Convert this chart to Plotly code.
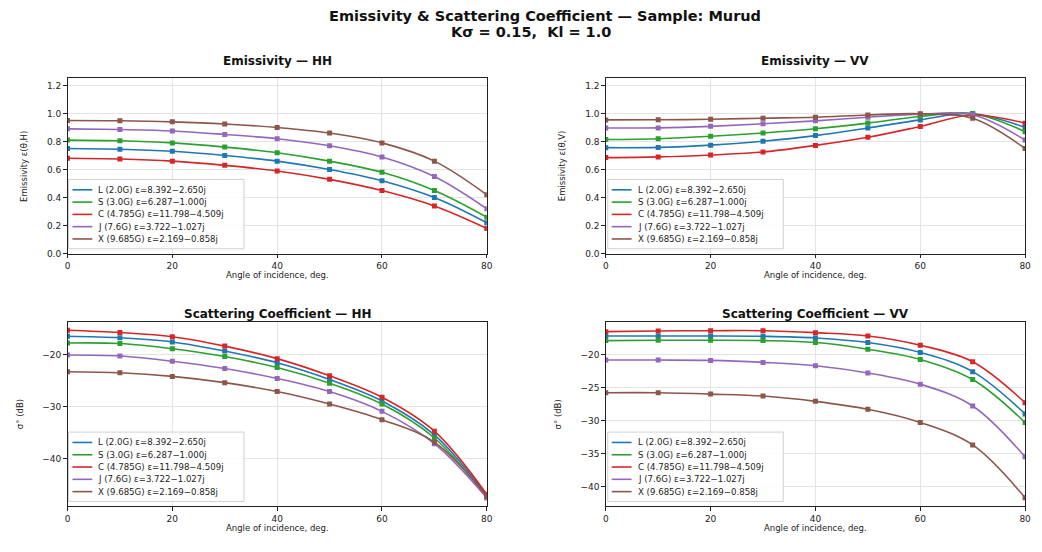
import plotly.graph_objects as go

# ---------------- data ----------------
angles = [0, 10, 20, 30, 40, 50, 60, 70, 80]

band_labels = [
    "L (2.0G) ε=8.392−2.650j",
    "S (3.0G) ε=6.287−1.000j",
    "C (4.785G) ε=11.798−4.509j",
    "J (7.6G) ε=3.722−1.027j",
    "X (9.685G) ε=2.169−0.858j",
]
band_colors = ["#1f77b4", "#2ca02c", "#d62728", "#9467bd", "#8c564b"]

# Emissivity HH
emis_hh_L = [0.75, 0.745, 0.73, 0.70, 0.66, 0.60, 0.52, 0.40, 0.22]
emis_hh_S = [0.81, 0.805, 0.79, 0.76, 0.72, 0.66, 0.58, 0.45, 0.26]
emis_hh_C = [0.68, 0.675, 0.66, 0.63, 0.59, 0.53, 0.45, 0.34, 0.18]
emis_hh_J = [0.89, 0.885, 0.875, 0.85, 0.82, 0.77, 0.69, 0.55, 0.32]
emis_hh_X = [0.95, 0.948, 0.94, 0.925, 0.90, 0.86, 0.79, 0.66, 0.42]

# Emissivity VV
emis_vv_L = [0.756, 0.758, 0.774, 0.802, 0.842, 0.896, 0.954, 0.998, 0.90]
emis_vv_S = [0.814, 0.82, 0.837, 0.861, 0.891, 0.931, 0.978, 1.000, 0.87]
emis_vv_C = [0.685, 0.69, 0.704, 0.725, 0.772, 0.83, 0.907, 0.989, 0.93]
emis_vv_J = [0.896, 0.897, 0.908, 0.926, 0.947, 0.973, 0.995, 0.99, 0.81]
emis_vv_X = [0.954, 0.955, 0.958, 0.966, 0.973, 0.989, 0.998, 0.965, 0.75]

# Scattering coefficient HH (dB)
sig_hh_L = [-16.5, -16.8, -17.6, -19.35, -21.6, -24.8, -28.9, -35.4, -47.0]
sig_hh_S = [-17.8, -17.9, -18.9, -20.4, -22.5, -25.5, -29.5, -36.0, -47.3]
sig_hh_C = [-15.35, -15.8, -16.6, -18.4, -20.8, -24.1, -28.2, -34.7, -46.8]
sig_hh_J = [-20.1, -20.3, -21.3, -22.7, -24.6, -27.1, -30.9, -37.1, -47.5]
sig_hh_X = [-23.3, -23.5, -24.2, -25.4, -27.1, -29.5, -32.5, -36.8, -47.2]

# Scattering coefficient VV (dB)
sig_vv_L = [-17.2, -17.2, -17.2, -17.25, -17.5, -18.2, -19.7, -22.6, -29.0]
sig_vv_S = [-17.9, -17.85, -17.85, -17.9, -18.2, -19.2, -20.75, -23.8, -30.3]
sig_vv_C = [-16.55, -16.45, -16.4, -16.4, -16.7, -17.2, -18.6, -21.1, -27.3]
sig_vv_J = [-20.85, -20.85, -20.9, -21.2, -21.7, -22.8, -24.5, -27.8, -35.5]
sig_vv_X = [-25.8, -25.8, -26.0, -26.3, -27.1, -28.3, -30.3, -33.7, -41.7]

panels = [
    ([emis_hh_L, emis_hh_S, emis_hh_C, emis_hh_J, emis_hh_X], "x", "y"),
    ([emis_vv_L, emis_vv_S, emis_vv_C, emis_vv_J, emis_vv_X], "x2", "y2"),
    ([sig_hh_L, sig_hh_S, sig_hh_C, sig_hh_J, sig_hh_X], "x3", "y3"),
    ([sig_vv_L, sig_vv_S, sig_vv_C, sig_vv_J, sig_vv_X], "x4", "y4"),
]

# page body has an 8px margin; size the figure so it fits the window
OFF = 8
W, H = 1034, 544
FONT = "DejaVu Sans"


def px_x(p):
    return (p - OFF) / W


def px_y(p):
    return 1 - (p - OFF) / H


fig = go.Figure()

for series, xa, ya in panels:
    for vals, lab, col in zip(series, band_labels, band_colors):
        fig.add_trace(go.Scatter(
            x=angles, y=vals, mode="lines", name=lab,
            line=dict(color=col, width=1.6, shape="spline", smoothing=1.0),
            xaxis=xa, yaxis=ya, showlegend=False,
        ))
        fig.add_trace(go.Scatter(
            x=angles, y=vals, mode="markers", name=lab,
            marker=dict(color=col, symbol="square", size=5),
            xaxis=xa, yaxis=ya, showlegend=False,
        ))

left_dom = [px_x(65), px_x(488)]
right_dom = [px_x(608), px_x(1031)]
top_dom = [px_y(256), px_y(79)]
bot_dom = [px_y(511), px_y(325)]

axis_common = dict(
    showline=True, linecolor="#222", linewidth=1, mirror=True,
    ticks="outside", ticklen=3.5, tickwidth=1, tickcolor="#222",
    showgrid=True, gridcolor="#e4e4e4", gridwidth=0.8, zeroline=False,
    tickfont=dict(family=FONT, size=9, color="#222"),
)

xcommon = dict(axis_common, range=[0, 80], tickvals=[0, 20, 40, 60, 80])

fig.update_layout(
    width=W, height=H,
    margin=dict(l=0, r=0, t=0, b=0),
    paper_bgcolor="white", plot_bgcolor="white",
    font=dict(family=FONT, color="#222"),
    showlegend=False,
    xaxis=dict(xcommon, domain=left_dom, anchor="y"),
    yaxis=dict(axis_common, domain=top_dom, anchor="x", range=[0, 1.25],
               tickvals=[0, 0.2, 0.4, 0.6, 0.8, 1.0, 1.2], tickformat=".1f"),
    xaxis2=dict(xcommon, domain=right_dom, anchor="y2"),
    yaxis2=dict(axis_common, domain=top_dom, anchor="x2", range=[0, 1.25],
                tickvals=[0, 0.2, 0.4, 0.6, 0.8, 1.0, 1.2], tickformat=".1f"),
    xaxis3=dict(xcommon, domain=left_dom, anchor="y3"),
    yaxis3=dict(axis_common, domain=bot_dom, anchor="x3", range=[-49.1, -13.8],
                tickvals=[-20, -30, -40]),
    xaxis4=dict(xcommon, domain=right_dom, anchor="y4"),
    yaxis4=dict(axis_common, domain=bot_dom, anchor="x4", range=[-43.0, -15.1],
                tickvals=[-20, -25, -30, -35, -40]),
)

annotations = []
shapes = []


def ann(text, x, y, size, xanchor="center", yanchor="middle", angle=0, color="#111"):
    annotations.append(dict(
        text=text, x=px_x(x), y=px_y(y), xref="paper", yref="paper",
        xanchor=xanchor, yanchor=yanchor, showarrow=False, textangle=angle,
        font=dict(family=FONT, size=size, color=color)))


# main title
ann("<b>Emissivity &amp; Scattering Coefficient — Sample: Murud</b>", 547, 16, 14.5)
ann("<b>Kσ = 0.15,&nbsp;&nbsp;Kl = 1.0</b>", 533, 32.5, 14.5)

# subplot titles
ann("<b>Emissivity — HH</b>", 276.5, 61, 12)
ann("<b>Emissivity — VV</b>", 819.5, 61, 12)
ann("<b>Scattering Coefficient — HH</b>", 276.5, 317, 12)
ann("<b>Scattering Coefficient — VV</b>", 819.5, 317, 12)

# axis titles
for cx in (276.5, 819.5):
    ann("Angle of incidence, deg.", cx, 277, 8.5, color="#222")
    ann("Angle of incidence, deg.", cx, 533, 8.5, color="#222")
ann("Emissivity ε(θ,H)", 21, 167.5, 8.5, angle=-90, color="#222")
ann("Emissivity ε(θ,V)", 564, 167.5, 8.5, angle=-90, color="#222")
ann("σ° (dB)", 17, 418, 8.5, angle=-90, color="#222")
ann("σ° (dB)", 560, 418, 8.5, angle=-90, color="#222")

# legends (drawn as boxes with swatches and labels)
legend_boxes = [(66, 181), (610, 181), (66, 436), (610, 436)]
BOX_W, BOX_H, ROW0, ROW_DY = 177, 70, 10.5, 12.4
for bx, by in legend_boxes:
    shapes.append(dict(
        type="rect", xref="paper", yref="paper",
        x0=px_x(bx), x1=px_x(bx + BOX_W), y0=px_y(by + BOX_H), y1=px_y(by),
        fillcolor="rgba(255,255,255,0.85)", line=dict(color="#d0d0d0", width=1)))
    for i, (lab, col) in enumerate(zip(band_labels, band_colors)):
        ry = by + ROW0 + i * ROW_DY
        shapes.append(dict(
            type="line", xref="paper", yref="paper",
            x0=px_x(bx + 4), x1=px_x(bx + 24), y0=px_y(ry), y1=px_y(ry),
            line=dict(color=col, width=1.6)))
        ann(lab, bx + 28, ry, 8.6, xanchor="left", color="#222")

fig.update_layout(annotations=annotations, shapes=shapes)

fig.write_html("out.html")
